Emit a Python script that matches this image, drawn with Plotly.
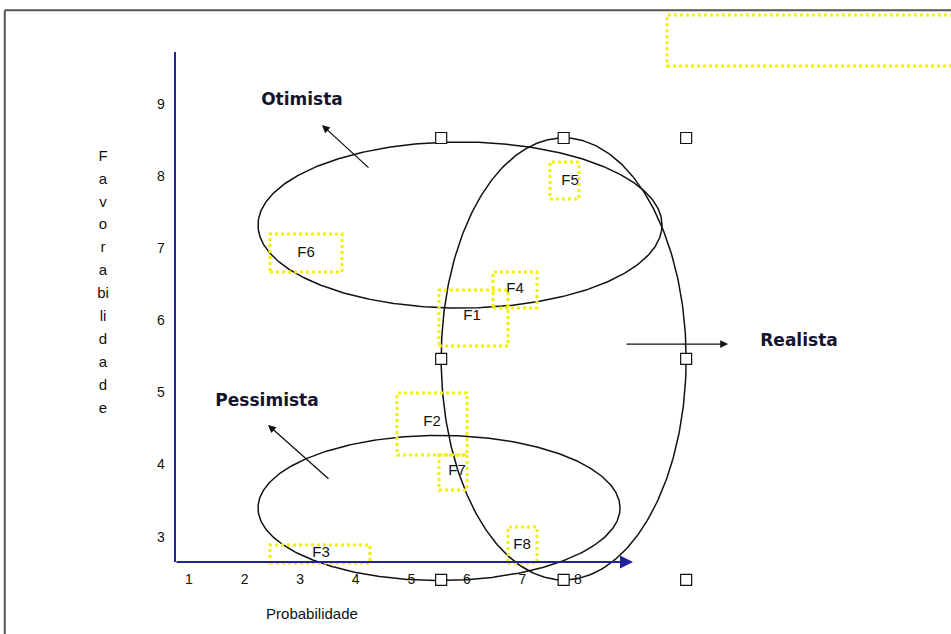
import numpy as np
import plotly.graph_objects as go

# ---------------- data ----------------
x_ticks = [1, 2, 3, 4, 5, 6, 7, 8]
y_ticks = [3, 4, 5, 6, 7, 8, 9]

# scenario ellipses: name, centre (prob, fav), semi-axes (prob, fav)
ellipse_names = ["Otimista", "Pessimista", "Realista"]
ellipse_cx = [5.877, 5.499, 7.742]
ellipse_cy = [7.337, 3.416, 5.481]
ellipse_ax = [3.635, 3.257, 2.204]
ellipse_ay = [1.150, 1.005, 3.062]

# factors (labels, position) and their dotted boxes
factor_names = ["F1", "F2", "F3", "F4", "F5", "F6", "F7", "F8"]
factor_x = [6.093, 5.373, 3.375, 6.866, 7.856, 3.105, 5.823, 6.992]
factor_y = [6.076, 4.608, 2.792, 6.450, 7.947, 6.949, 3.929, 2.903]
box_x0 = [5.499, 4.743, 2.458, 6.471, 7.496, 2.458, 5.499, 6.741]
box_x1 = [6.741, 6.003, 4.257, 7.262, 8.018, 3.753, 6.003, 7.262]
box_y0 = [5.661, 4.150, 2.654, 6.187, 7.698, 6.686, 3.665, 2.654]
box_y1 = [6.437, 5.009, 2.903, 6.686, 8.210, 7.213, 4.150, 3.153]

# scenario labels and their arrows (tail -> tip)
scen_label_x = [3.033, 2.404, 11.977]
scen_label_y = [9.055, 4.885, 5.716]
arrow_tail_x = [4.257, 3.537, 8.846]
arrow_tail_y = [8.113, 3.804, 5.688]
arrow_tip_x = [3.393, 2.422, 10.700]
arrow_tip_y = [8.723, 4.566, 5.688]

y_title_lines = ["F", "a", "v", "o", "r", "a", "bi", "li", "d", "a", "d", "e"]
x_title = "Probabilidade"

# ---------------- figure ----------------
fig = go.Figure()

AX = "#22229a"
X0, Y0 = 0.748, 2.668   # axis origin
Y_TOP = 9.734
X_END = 8.99

# frame (top & left)
fig.add_shape(type="line", xref="paper", yref="paper", x0=0.005, x1=1.0, y0=0.984, y1=0.984,
              line=dict(color="#555555", width=2))
fig.add_shape(type="line", xref="paper", yref="paper", x0=0.005, x1=0.005, y0=0.0, y1=0.984,
              line=dict(color="#555555", width=2))

# empty dotted box at top right
fig.add_shape(type="rect", x0=9.602, x1=14.9, y0=9.540, y1=10.247,
              line=dict(color="#f2f200", width=3, dash="dot"))

# factor boxes
for i in range(len(factor_names)):
    fig.add_shape(type="rect", x0=box_x0[i], x1=box_x1[i], y0=box_y0[i], y1=box_y1[i],
                  line=dict(color="#f2f200", width=3, dash="dot"))

# axes
fig.add_trace(go.Scatter(x=[X0, X0], y=[Y_TOP, Y0], mode="lines",
                         line=dict(color=AX, width=2), hoverinfo="skip", showlegend=False))
fig.add_annotation(x=X_END, y=Y0, ax=X0, ay=Y0, xref="x", yref="y", axref="x", ayref="y",
                   showarrow=True, arrowhead=2, arrowsize=1.3, arrowwidth=2, arrowcolor=AX, text="")

# ellipses
t = np.linspace(0, 2 * np.pi, 400)
for i in range(len(ellipse_names)):
    fig.add_trace(go.Scatter(x=ellipse_cx[i] + ellipse_ax[i] * np.cos(t),
                             y=ellipse_cy[i] + ellipse_ay[i] * np.sin(t),
                             mode="lines", line=dict(color="#111111", width=1.5),
                             hoverinfo="skip", showlegend=False))

# selection handles of the Realista ellipse (bounding box)
r = 2
hx, hy = [], []
for sy in (1, 0, -1):
    for sx in (-1, 0, 1):
        if sx == 0 and sy == 0:
            continue
        hx.append(ellipse_cx[r] + sx * ellipse_ax[r])
        hy.append(ellipse_cy[r] + sy * ellipse_ay[r])
fig.add_trace(go.Scatter(x=hx, y=hy, mode="markers",
                         marker=dict(symbol="square", size=11, color="white",
                                     line=dict(color="#111111", width=1.2)),
                         hoverinfo="skip", showlegend=False, cliponaxis=False))

# scenario arrows
for i in range(3):
    fig.add_annotation(x=arrow_tip_x[i], y=arrow_tip_y[i], ax=arrow_tail_x[i], ay=arrow_tail_y[i],
                       xref="x", yref="y", axref="x", ayref="y", showarrow=True,
                       arrowhead=2, arrowsize=1.2, arrowwidth=1.3, arrowcolor="#111111", text="")

# scenario labels
fig.add_trace(go.Scatter(x=scen_label_x, y=scen_label_y, mode="text",
                         text=["<b>%s</b>" % n for n in ellipse_names],
                         textfont=dict(family="DejaVu Sans", size=17, color="#14142e"),
                         hoverinfo="skip", showlegend=False))

# factor labels
fig.add_trace(go.Scatter(x=factor_x, y=factor_y, mode="text", text=factor_names,
                         textfont=dict(family="Liberation Sans", size=15, color="#111111"),
                         hoverinfo="skip", showlegend=False))

# tick labels
fig.add_trace(go.Scatter(x=x_ticks, y=[2.418] * len(x_ticks), mode="text",
                         text=[str(v) for v in x_ticks],
                         textfont=dict(family="Liberation Sans", size=14, color="#111111"),
                         hoverinfo="skip", showlegend=False))
fig.add_trace(go.Scatter(x=[0.496] * len(y_ticks), y=y_ticks, mode="text",
                         text=[str(v) for v in y_ticks],
                         textfont=dict(family="Liberation Sans", size=14, color="#111111"),
                         hoverinfo="skip", showlegend=False))

# axis titles
ty = [8.279 - 0.3173 * i for i in range(len(y_title_lines))]
fig.add_trace(go.Scatter(x=[-0.548] * len(y_title_lines), y=ty, mode="text", text=y_title_lines,
                         textfont=dict(family="Liberation Sans", size=15, color="#111111"),
                         hoverinfo="skip", showlegend=False))
fig.add_trace(go.Scatter(x=[3.213], y=[1.933], mode="text", text=[x_title],
                         textfont=dict(family="Liberation Sans", size=15, color="#111111"),
                         hoverinfo="skip", showlegend=False))

fig.update_layout(
    width=951, height=634,
    margin=dict(l=0, r=0, t=0, b=0),
    paper_bgcolor="white", plot_bgcolor="white",
    xaxis=dict(range=[-2.401, 14.712], visible=False, fixedrange=True),
    yaxis=dict(range=[1.670, 10.455], visible=False, fixedrange=True),
    showlegend=False,
)

fig.write_html("out.html", config={"displayModeBar": False},
               post_script="document.body.style.margin='0';document.body.style.overflow='hidden';")
